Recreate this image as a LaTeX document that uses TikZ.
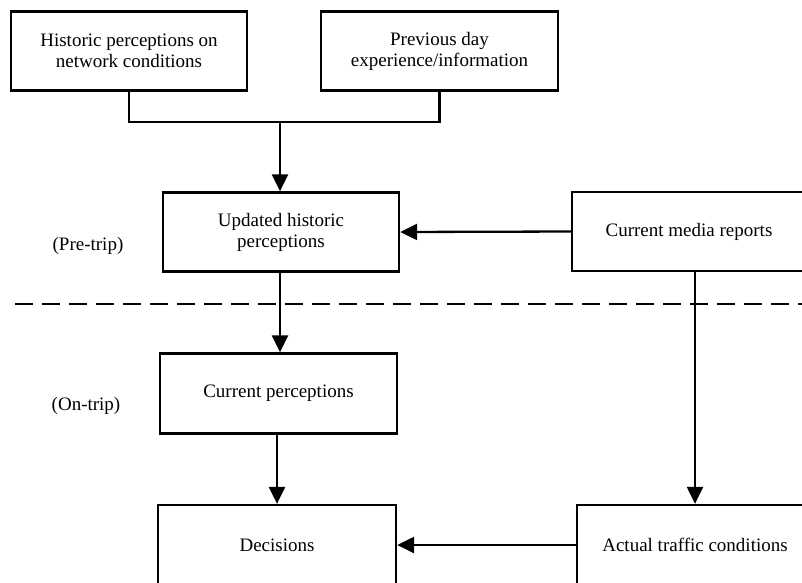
\documentclass[tikz,border=0pt]{standalone}
\usepackage{fontspec}
\setmainfont{Liberation Serif}
\usetikzlibrary{arrows.meta}
\begin{document}
\begin{tikzpicture}[x=1pt,y=-1pt,
  box/.style={draw, line width=2.3pt, align=center, inner sep=0pt,
    font=\fontsize{19}{21}\selectfont},
  label/.style={font=\fontsize{19}{21}\selectfont},
  link/.style={line width=2.3pt},
  flow/.style={line width=2.3pt, -{Triangle[length=17pt,width=16pt]}},
  divider/.style={line width=2pt, dash pattern=on 18pt off 9pt}]
\useasboundingbox (0,0) rectangle (802,582);
\clip (0,0) rectangle (802,582);
\fill[white] (0,0) rectangle (802,582);

% boxes
\node[box, minimum width=236pt, minimum height=79pt] (hist) at (129,51)
  {Historic perceptions on\\network conditions};
\node[box, minimum width=237pt, minimum height=79pt] (prev) at (439.5,51)
  {Previous day\\experience/information};
\node[box, minimum width=236pt, minimum height=79pt] (upd) at (281,232)
  {Updated historic\\perceptions};
\node[box, minimum width=234pt, minimum height=79pt] (media) at (689,231.5)
  {Current media reports};
\node[box, minimum width=237pt, minimum height=80pt] (cur) at (278.5,393.5)
  {Current perceptions};
\node[box, minimum width=238pt, minimum height=80pt] (dec) at (277,545)
  {Decisions};
\node[box, minimum width=236pt, minimum height=80pt] (act) at (695,545)
  {Actual traffic conditions};

% phase labels
\node[label] (pre) at (88,246) {(Pre-trip)};
\node[label] (on) at (86,406) {(On-trip)};

% phase divider
\coordinate (dl) at (15,304);
\coordinate (dr) at (802,304);
\draw[divider] (dl) -- (dr);

% connectors
\coordinate (join) at (280,122);
\coordinate (updout) at (280,271.5);
\draw[link] (hist.south) |- (join) -| (prev.south);
\draw[flow] (join) -- (join |- upd.north);
\draw[flow] (media.west) -- (upd.east);
\draw[flow] (updout) -- (updout |- cur.north);
\draw[flow] (act.north |- media.south) -- (act.north);
\draw[flow] (cur.south -| dec.north) -- (dec.north);
\draw[flow] (act.west) -- (dec.east);
\end{tikzpicture}
\end{document}
